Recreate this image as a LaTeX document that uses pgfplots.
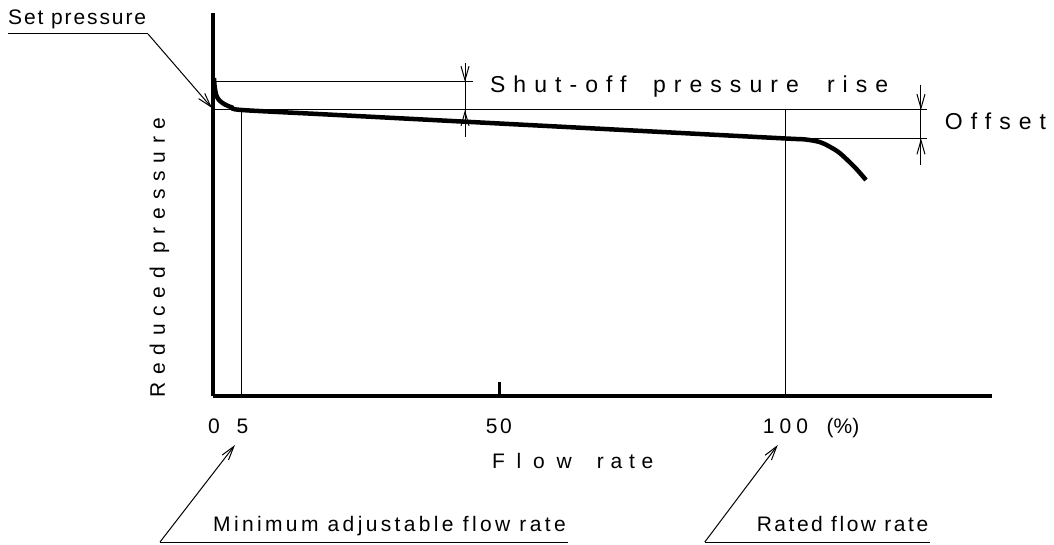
\documentclass[border=0pt]{standalone}
\usepackage{fontspec}
\setmainfont{Liberation Sans}
\usepackage{pgfplots}
\pgfplotsset{compat=1.18}
\usetikzlibrary{arrows.meta}
\newcommand{\ls}[1]{\addfontfeature{LetterSpace=#1}}
\tikzset{
  thinl/.style={line width=1bp},
  dim/.style={line width=1bp, -{Straight Barb[length=14bp,width=8bp]}},
  lab/.style={anchor=base west, inner sep=0pt},
}
\begin{document}
\begin{tikzpicture}
\begin{axis}[
  at={(0,0)}, anchor=south west,
  scale only axis, width=779bp, height=383bp,
  xmin=0, xmax=136, ymin=0, ymax=383,
  axis x line=bottom, axis y line=left,
  axis line style={-, line width=3.2bp, black},
  xtick={50}, xticklabels={}, ytick=\empty,
  tick align=inside,
  major tick length=14bp,
  xtick style={line width=3bp, black},
  clip=false,
]
% pressure-flow characteristic
\addplot[black, line width=4.5bp, smooth, tension=0.5] coordinates {
  (0.17,318) (0.26,311) (0.44,304) (0.7,299) (1.22,295) (2.09,291.5)
  (3.32,288.5) (5,286) (20,281.5) (50,272.5) (75,265) (100,257.5)
  (103.3,256.6) (105.9,254) (107.6,249.5) (109.4,243)
  (112,229) (114,216)
};
% reference lines
\draw[thinl] (axis cs:0,314) -- (axis cs:45.4,314);
\draw[thinl] (axis cs:0,286) -- (axis cs:124.6,286);
\draw[thinl] (axis cs:100,257.5) -- (axis cs:124.6,257.5);
\draw[thinl] (axis cs:5,0) -- (axis cs:5,286);
\draw[thinl] (axis cs:100,0) -- (axis cs:100,286);
% dimension lines
\draw[thinl] (axis cs:44,333) -- (axis cs:44,259);
\draw[dim] (axis cs:44,333) -- (axis cs:44,314);
\draw[dim] (axis cs:44,259) -- (axis cs:44,286);
\draw[thinl] (axis cs:123.6,311) -- (axis cs:123.6,231);
\draw[dim] (axis cs:123.6,311) -- (axis cs:123.6,286);
\draw[dim] (axis cs:123.6,231) -- (axis cs:123.6,257.5);
% leaders
\draw[thinl] (axis cs:-35.8,362) -- (axis cs:-11.34,362);
\draw[dim] (axis cs:-11.34,362) -- (axis cs:-0.17,288);
\draw[thinl] (axis cs:61.95,-146) -- (axis cs:-9.25,-146);
\draw[dim] (axis cs:-9.25,-146) -- (axis cs:3.84,-49);
\draw[thinl] (axis cs:125.1,-146) -- (axis cs:85.86,-146);
\draw[dim] (axis cs:85.86,-146) -- (axis cs:98.6,-49);
% labels
\node[lab, font=\fontsize{21bp}{24bp}\selectfont\ls{9}] at (axis cs:-35.8,371) {Set pressure};
\node[lab, font=\fontsize{23bp}{26bp}\selectfont\ls{35}] at (axis cs:48.34,303) {Shut-off};
\node[lab, font=\fontsize{23bp}{26bp}\selectfont\ls{35}] at (axis cs:76.79,303) {pressure};
\node[lab, font=\fontsize{23bp}{26bp}\selectfont\ls{35}] at (axis cs:107.16,303) {rise};
\node[lab, font=\fontsize{23bp}{26bp}\selectfont\ls{35}] at (axis cs:127.75,266) {Offset};
\node[lab, rotate=90, font=\fontsize{21bp}{24bp}\selectfont\ls{37}] at (axis cs:-8.4,-2) {Reduced pressure};
\node[lab, font=\fontsize{21bp}{24bp}\selectfont\ls{56}] at (axis cs:48.7,-72) {Flow};
\node[lab, font=\fontsize{21bp}{24bp}\selectfont\ls{32}] at (axis cs:67.0,-72) {rate};
\node[anchor=base, inner sep=0pt, font=\fontsize{21bp}{24bp}\selectfont] at (axis cs:0.17,-37) {0};
\node[anchor=base, inner sep=0pt, font=\fontsize{21bp}{24bp}\selectfont] at (axis cs:5.15,-37) {5};
\node[lab, font=\fontsize{21bp}{24bp}\selectfont\ls{12}] at (axis cs:47.6,-37) {50};
\node[lab, font=\fontsize{21bp}{24bp}\selectfont\ls{24}] at (axis cs:95.98,-37) {100};
\node[lab, font=\fontsize{21bp}{24bp}\selectfont] at (axis cs:107.1,-37) {(\%)};
\node[lab, font=\fontsize{21bp}{24bp}\selectfont\ls{16}] at (axis cs:0,-135) {Minimum adjustable flow rate};
\node[lab, font=\fontsize{21bp}{24bp}\selectfont\ls{12}] at (axis cs:94.9,-135) {Rated flow rate};
\end{axis}
\pgfresetboundingbox
\path[use as bounding box] (-213bp,-149bp) rectangle (841bp,396bp);
\end{tikzpicture}
\end{document}
